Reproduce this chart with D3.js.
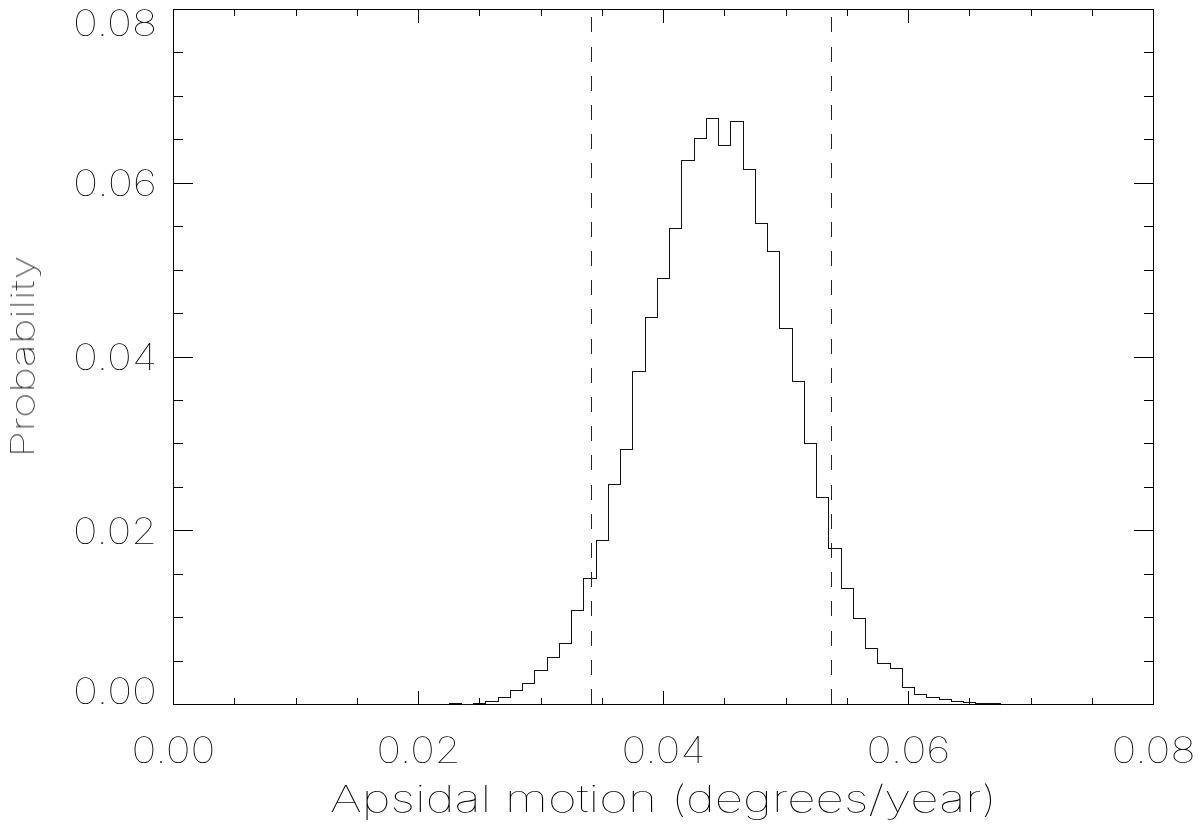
<!DOCTYPE html>
<html><head><meta charset="utf-8">
<script src="https://cdn.jsdelivr.net/npm/d3@7"></script>
<style>
body{margin:0;background:#fff}
svg{display:block}
text{font-family:Inter,"Noto Sans",sans-serif;font-weight:100;fill:#000}
.lbl{opacity:0.995;will-change:transform}
</style>
</head><body>
<svg id="chart" width="1200" height="829"></svg>
<script>
// ---- data ----
const binCenters = [0.023,0.024,0.025,0.026,0.027,0.028,0.029,0.030,0.031,0.032,0.033,0.034,0.035,0.036,0.037,0.038,0.039,0.040,0.041,0.042,0.043,0.044,0.045,0.046,0.047,0.048,0.049,0.050,0.051,0.052,0.053,0.054,0.055,0.056,0.057,0.058,0.059,0.060,0.061,0.062,0.063,0.064,0.065,0.066,0.067];
const probability = [0.0001,0.00005,0.00015,0.0004,0.0008,0.0016,0.0024,0.0039,0.0054,0.0070,0.0108,0.0145,0.0189,0.0253,0.0293,0.0383,0.0445,0.0490,0.0548,0.0626,0.0652,0.0675,0.0643,0.0671,0.0616,0.0554,0.0522,0.0433,0.0372,0.0300,0.0238,0.0179,0.0133,0.0099,0.0064,0.0047,0.0042,0.0019,0.0012,0.0008,0.0006,0.0003,0.0002,0.0001,0.0001];
const binWidth = 0.001;
const confidenceLimits = [0.0341, 0.0537];
const xTickValues = [0, 0.02, 0.04, 0.06, 0.08];
const xTickLabels = ["0.00","0.02","0.04","0.06","0.08"];
const yTickValues = [0, 0.02, 0.04, 0.06, 0.08];
const yTickLabels = ["0.00","0.02","0.04","0.06","0.08"];
const minorTickValues = [0,0.005,0.01,0.015,0.02,0.025,0.03,0.035,0.04,0.045,0.05,0.055,0.06,0.065,0.07,0.075,0.08];
const xTitle = "Apsidal motion (degrees/year)";
const yTitle = "Probability";

// ---- layout ----
const L = 173, R = 1153, T = 9, B = 704;
const svg = d3.select("#chart");
const x = d3.scaleLinear().domain([0, 0.08]).range([L, R]);
const y = d3.scaleLinear().domain([0, 0.08]).range([B, T]);

// frame
svg.append("rect").attr("x", L + 0.5).attr("y", T + 0.5)
  .attr("width", R - L).attr("height", B - T)
  .attr("fill", "none").attr("stroke", "#000").attr("stroke-width", 1)
  .attr("shape-rendering", "crispEdges");

function addAxis(axis, tx, ty) {
  const g = svg.append("g").attr("transform", `translate(${tx},${ty})`).call(axis);
  g.select(".domain").remove();
  g.selectAll(".tick line").attr("stroke", "#000").attr("shape-rendering", "crispEdges");
  g.selectAll(".tick text").remove();
  return g;
}
const xMaj = 13.9, xMin = 6.9, yMaj = 19.6, yMin = 9.8;
addAxis(d3.axisBottom(x).tickValues(xTickValues).tickSize(-xMaj).tickFormat(""), 0, B + 0.5);
addAxis(d3.axisBottom(x).tickValues(minorTickValues).tickSize(-xMin).tickFormat(""), 0, B + 0.5);
addAxis(d3.axisTop(x).tickValues(xTickValues).tickSize(-xMaj).tickFormat(""), 0, T + 0.5);
addAxis(d3.axisTop(x).tickValues(minorTickValues).tickSize(-xMin).tickFormat(""), 0, T + 0.5);
addAxis(d3.axisLeft(y).tickValues(yTickValues).tickSize(-yMaj).tickFormat(""), L + 0.5, 0);
addAxis(d3.axisLeft(y).tickValues(minorTickValues).tickSize(-yMin).tickFormat(""), L + 0.5, 0);
addAxis(d3.axisRight(y).tickValues(yTickValues).tickSize(-yMaj).tickFormat(""), R + 0.5, 0);
addAxis(d3.axisRight(y).tickValues(minorTickValues).tickSize(-yMin).tickFormat(""), R + 0.5, 0);

const labels = svg.append("g").attr("class", "lbl");
// tick labels
labels.append("g").selectAll("text").data(xTickValues).join("text")
  .attr("x", d => x(d) + 0.5).attr("y", 763)
  .attr("text-anchor", "middle").attr("font-size", 36)
  .attr("textLength", 84).attr("lengthAdjust", "spacingAndGlyphs")
  .text((d, i) => xTickLabels[i]);
labels.append("g").selectAll("text").data(yTickValues).join("text")
  .attr("x", 157).attr("y", d => Math.max(T + 27, Math.min(B, y(d) + 13.5)))
  .attr("text-anchor", "end").attr("font-size", 36)
  .attr("textLength", 84).attr("lengthAdjust", "spacingAndGlyphs")
  .text((d, i) => yTickLabels[i]);

// titles
labels.append("text").attr("x", (L + R) / 2 + 0.5).attr("y", 812)
  .attr("text-anchor", "middle").attr("font-size", 37)
  .attr("textLength", 667).attr("lengthAdjust", "spacingAndGlyphs")
  .text(xTitle);
labels.append("text").attr("transform", `translate(34,${(T + B) / 2}) rotate(-90)`)
  .attr("text-anchor", "middle").attr("font-size", 33)
  .attr("textLength", 202).attr("lengthAdjust", "spacingAndGlyphs")
  .text(yTitle);

// histogram step line
const pts = [[binCenters[0] - binWidth / 2, 0]];
binCenters.forEach((c, i) => {
  pts.push([c - binWidth / 2, probability[i]]);
  pts.push([c + binWidth / 2, probability[i]]);
});
pts.push([binCenters[binCenters.length - 1] + binWidth / 2, 0]);
svg.append("path").datum(pts)
  .attr("d", d3.line().x(d => Math.round(x(d[0])) + 0.5).y(d => Math.round(y(d[1])) + 0.5))
  .attr("fill", "none").attr("stroke", "#111").attr("stroke-width", 1)
  .attr("shape-rendering", "crispEdges");

// confidence-limit dashed lines (drawn bottom to top)
svg.append("g").selectAll("line").data(confidenceLimits).join("line")
  .attr("x1", d => Math.round(x(d)) + 0.5).attr("x2", d => Math.round(x(d)) + 0.5)
  .attr("y1", y(0)).attr("y2", y(0.08))
  .attr("stroke", "#222").attr("stroke-width", 1)
  .attr("stroke-dasharray", "15,14.2")
  .attr("shape-rendering", "crispEdges");
</script>
</body></html>
